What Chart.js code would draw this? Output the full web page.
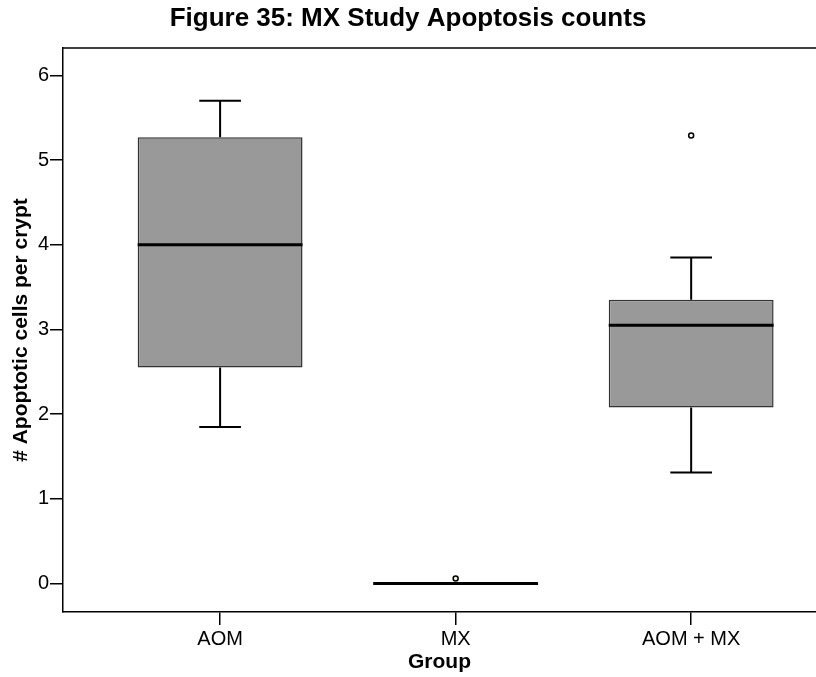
<!DOCTYPE html>
<html>
<head>
<meta charset="utf-8">
<script src="https://cdn.jsdelivr.net/npm/chart.js@4/dist/chart.umd.min.js"></script>
<style>
html,body{margin:0;padding:0;background:#fff;overflow:hidden;}
canvas{display:block;}
</style>
</head>
<body>
<canvas id="c" width="816" height="677"></canvas>
<script>
// ---- data ----
const categories = ['AOM', 'MX', 'AOM + MX'];
const groupPos = [1, 2, 3];
const whiskerLow = [1.85, 0, 1.31];
const q1 = [2.55, 0, 2.08];
const median = [4.00, 0, 3.05];
const q3 = [5.27, 0, 3.35];
const whiskerHigh = [5.70, 0, 3.85];
const outlierGroup = [2, 3];
const outlierValue = [0.06, 5.29];
const yTicks = [0, 1, 2, 3, 4, 5, 6];

const FONT = "'Liberation Sans', Arial, Helvetica, sans-serif";
const BOX_W = 0.70;   // box width in axis units
const CAP_W = 0.177;  // whisker cap width in axis units

const boxExtras = {
  id: 'boxExtras',
  afterDatasetsDraw(chart) {
    const {ctx, chartArea, scales: {x, y}} = chart;
    ctx.save();
    // top frame line
    ctx.strokeStyle = '#000';
    ctx.lineWidth = 1.5;
    ctx.beginPath();
    ctx.moveTo(chartArea.left, chartArea.top);
    ctx.lineTo(chartArea.right, chartArea.top);
    ctx.stroke();
    groupPos.forEach((g, i) => {
      const cx = x.getPixelForValue(g);
      const bl = x.getPixelForValue(g - BOX_W / 2), br = x.getPixelForValue(g + BOX_W / 2);
      const cl = x.getPixelForValue(g - CAP_W / 2), cr = x.getPixelForValue(g + CAP_W / 2);
      const yLo = y.getPixelForValue(whiskerLow[i]), yQ1 = y.getPixelForValue(q1[i]);
      const yQ3 = y.getPixelForValue(q3[i]), yHi = y.getPixelForValue(whiskerHigh[i]);
      const yMed = y.getPixelForValue(median[i]);
      ctx.strokeStyle = '#000';
      ctx.lineWidth = 2;
      ctx.beginPath();
      ctx.moveTo(cx, yQ3); ctx.lineTo(cx, yHi);
      ctx.moveTo(cl, yHi); ctx.lineTo(cr, yHi);
      ctx.moveTo(cx, yQ1); ctx.lineTo(cx, yLo);
      ctx.moveTo(cl, yLo); ctx.lineTo(cr, yLo);
      ctx.stroke();
      ctx.lineWidth = 3;
      ctx.beginPath();
      ctx.moveTo(bl, yMed); ctx.lineTo(br, yMed);
      ctx.stroke();
    });
    ctx.restore();
  }
};

new Chart(document.getElementById('c'), {
  data: {
    datasets: [
      {
        type: 'bar',
        data: groupPos.map((g, i) => ({x: g, y: [q1[i], q3[i]]})),
        backgroundColor: '#999999',
        borderColor: '#333333',
        borderWidth: 1.5,
        borderSkipped: false,
        categoryPercentage: 1,
        barPercentage: BOX_W,
        order: 2
      },
      {
        type: 'scatter',
        data: outlierGroup.map((g, i) => ({x: g, y: outlierValue[i]})),
        pointRadius: 2.5,
        pointBorderWidth: 1.5,
        pointBorderColor: '#000',
        pointBackgroundColor: ['#f4f0c8', '#ffffff'],
        order: 1
      }
    ]
  },
  options: {
    responsive: false,
    animation: false,
    layout: {padding: 0, autoPadding: false},
    plugins: {
      legend: {display: false},
      tooltip: {enabled: false},
      title: {
        display: true,
        text: 'Figure 35: MX Study Apoptosis counts',
        color: '#000',
        font: {family: FONT, size: 26, weight: 'bold'},
        padding: {top: 3, bottom: 13.8}
      }
    },
    scales: {
      x: {
        type: 'linear',
        offset: false,
        min: 0.333,
        max: 3.53,
        afterBuildTicks: s => { s.ticks = groupPos.map(v => ({value: v})); },
        afterFit: s => { s.height = 65; s.paddingLeft = 0; s.paddingRight = 0; },
        ticks: {
          color: '#000',
          font: {family: FONT, size: 20},
          padding: 2,
          maxRotation: 0,
          autoSkip: false,
          callback: v => categories[groupPos.indexOf(v)]
        },
        grid: {offset: false, drawOnChartArea: false, drawTicks: true, tickLength: 13, color: '#000', lineWidth: 1.5},
        border: {display: true, color: '#000', width: 1.5},
        title: {
          display: true, text: 'Group', color: '#000',
          font: {family: FONT, size: 21, weight: 'bold'},
          padding: {top: 0, bottom: 2}
        }
      },
      y: {
        min: -0.336,
        max: 6.324,
        afterBuildTicks: s => { s.ticks = yTicks.map(v => ({value: v})); },
        afterFit: s => { s.width = 63; },
        ticks: {
          color: '#000',
          font: {family: FONT, size: 20},
          padding: 1
        },
        grid: {drawOnChartArea: false, drawTicks: true, tickLength: 13, color: '#000', lineWidth: 1.5},
        border: {display: true, color: '#000', width: 1.5},
        title: {
          display: true, text: '# Apoptotic cells per crypt', color: '#000',
          font: {family: FONT, size: 21, weight: 'bold'},
          padding: {top: 9, bottom: 0}
        }
      }
    }
  },
  plugins: [boxExtras]
});
</script>
</body>
</html>
